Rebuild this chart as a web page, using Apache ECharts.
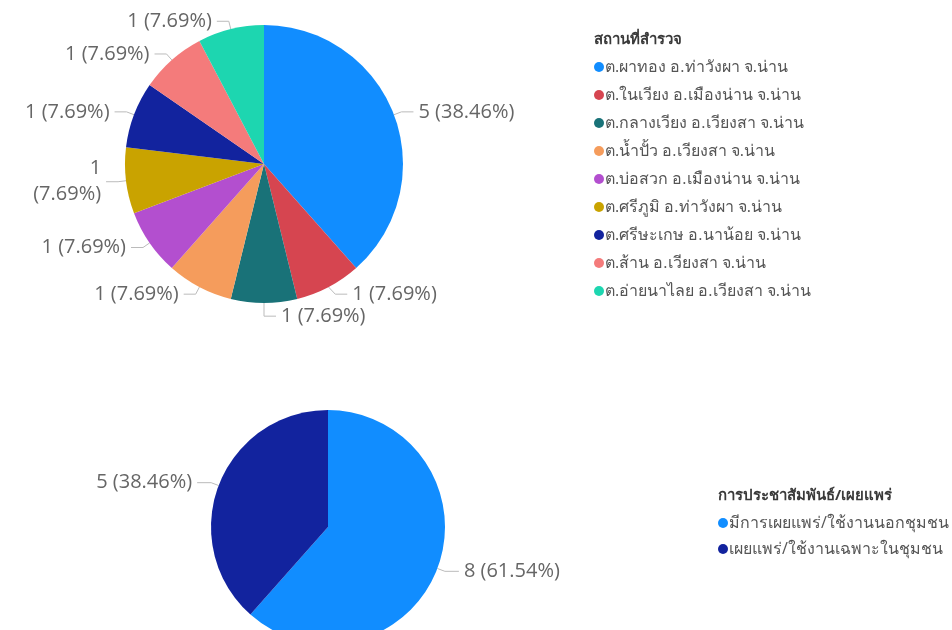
<!DOCTYPE html>
<html><head><meta charset="utf-8">
<script src="https://cdn.jsdelivr.net/npm/echarts@6/dist/echarts.min.js"></script>
<style>html,body{margin:0;padding:0;background:#fff}#c{width:952px;height:630px}</style>
</head><body><div id="c"></div>
<script>
const locationTitle = 'สถานที่สำรวจ';
const locationNames = ['ต.ผาทอง อ.ท่าวังผา จ.น่าน','ต.ในเวียง อ.เมืองน่าน จ.น่าน','ต.กลางเวียง อ.เวียงสา จ.น่าน','ต.น้ำปั้ว อ.เวียงสา จ.น่าน','ต.บ่อสวก อ.เมืองน่าน จ.น่าน','ต.ศรีภูมิ อ.ท่าวังผา จ.น่าน','ต.ศรีษะเกษ อ.นาน้อย จ.น่าน','ต.ส้าน อ.เวียงสา จ.น่าน','ต.อ่ายนาไลย อ.เวียงสา จ.น่าน'];
const locationValues = [5,1,1,1,1,1,1,1,1];
const prTitle = 'การประชาสัมพันธ์/เผยแพร่';
const prNames = ['มีการเผยแพร่/ใช้งานนอกชุมชน','เผยแพร่/ใช้งานเฉพาะในชุมชน'];
const prValues = [8,5];

const colorsTop = ['#118DFF','#D64550','#197278','#F59C5C','#B34FCF','#C9A300','#12239E','#F47B7B','#1DD6B0'];
const colorsBot = ['#118DFF','#12239E'];
const font = '"Segoe UI","Open Sans","Noto Sans",sans-serif';

const sum = a => a.reduce((s,v)=>s+v,0);
const pct = (v,t) => (v/t*100).toFixed(2);
const fmt = (vals, wrap) => p => p.value + (wrap ? '\n' : ' ') + '(' + pct(p.value, sum(vals)) + '%)';

const chart = echarts.init(document.getElementById('c'));
const labelBase = {color:'#666', fontSize:20, fontFamily:font};
const topData = locationNames.map((n,i)=>{
  const o = {name:n, value:locationValues[i]};
  if (i===5) o.label = {formatter:fmt(locationValues,true), align:'center', lineHeight:26};
  return o;
});
chart.setOption({
  animation:false,
  title:[
    {text:locationTitle, left:589, top:27, textStyle:{fontSize:15, fontWeight:'bold', color:'#3a3a3a', fontFamily:font}},
    {text:prTitle, left:713, top:483, textStyle:{fontSize:15, fontWeight:'bold', color:'#3a3a3a', fontFamily:font}}
  ],
  legend:[
    {data:locationNames, orient:'vertical', left:589, top:54, icon:'circle', itemWidth:10, itemHeight:10, itemGap:12,
     textStyle:{fontSize:16, color:'#555', fontFamily:font, padding:[0,0,0,-4]}},
    {data:prNames, orient:'vertical', left:713, top:510, icon:'circle', itemWidth:10, itemHeight:10, itemGap:10,
     textStyle:{fontSize:16, color:'#555', fontFamily:font, padding:[0,0,0,-4]}}
  ],
  series:[
    {type:'pie', center:[264,164], radius:139, startAngle:90, clockwise:true, color:colorsTop,
     label:Object.assign({formatter:fmt(locationValues,false)}, labelBase),
     labelLine:{length:8, length2:12, lineStyle:{color:'#bbb'}},
     itemStyle:{borderWidth:0}, emphasis:{disabled:true},
     data:topData},
    {type:'pie', center:[328,527], radius:117, startAngle:90, clockwise:true, color:colorsBot,
     label:Object.assign({formatter:fmt(prValues,false)}, labelBase),
     labelLine:{length:8, length2:14, lineStyle:{color:'#bbb'}},
     itemStyle:{borderWidth:0}, emphasis:{disabled:true},
     data:prNames.map((n,i)=>({name:n, value:prValues[i]}))}
  ]
});
</script></body></html>
